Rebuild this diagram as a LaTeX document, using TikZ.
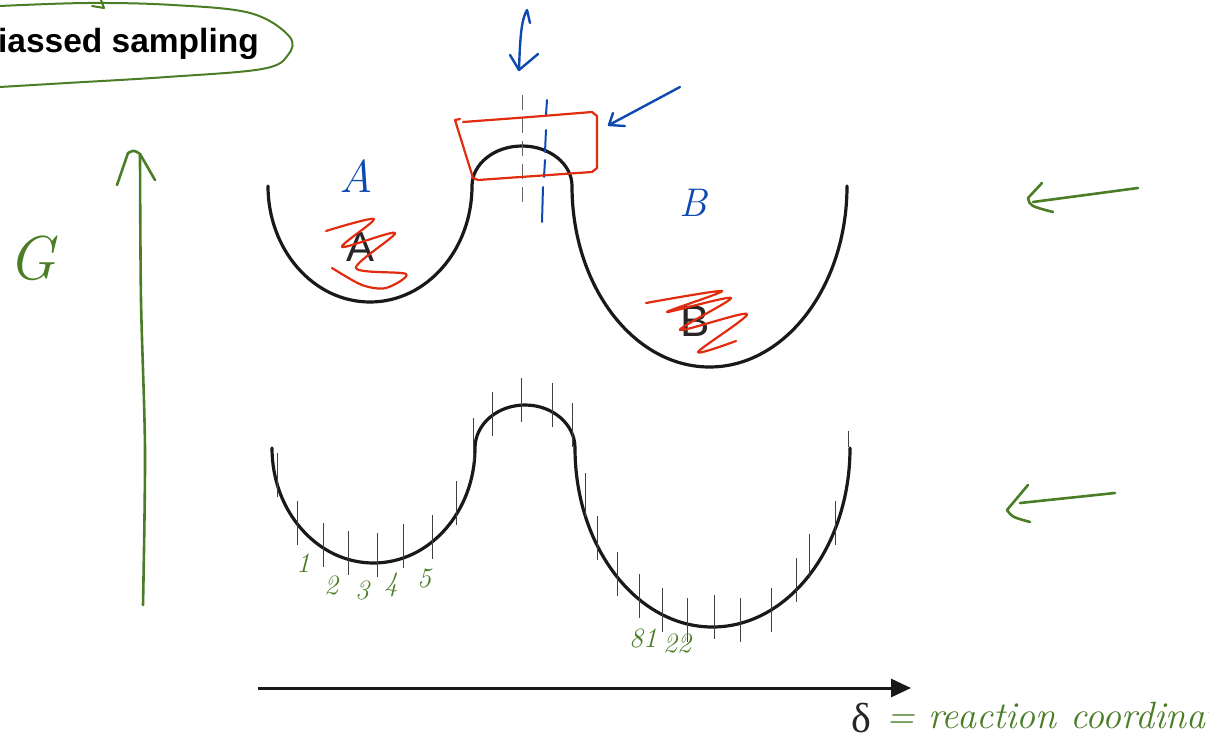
\documentclass[tikz,border=0pt]{standalone}
\usepackage{fontspec}
\setsansfont{Liberation Sans}
\newfontfamily\greekserif{Liberation Serif}
\usetikzlibrary{arrows.meta,calc}

\definecolor{penGreen}{RGB}{74,125,38}
\definecolor{penBlue}{RGB}{14,73,176}
\definecolor{penRed}{RGB}{226,44,16}

\tikzset{
  curve/.style={line width=3.2pt, black!90, line cap=round},
  tick/.style={line width=0.9pt, black!75},
  greenpen/.style={penGreen, line width=2.6pt, line cap=round, line join=round},
  bluepen/.style={penBlue, line width=2.4pt, line cap=round, line join=round},
  redpen/.style={penRed, line width=2.2pt, line cap=round, line join=round},
  hand/.style={font=\fontsize{#1}{#1}\selectfont\itshape, inner sep=0pt},
  hand/.default=24
}

\begin{document}
\begin{tikzpicture}[x=1pt,y=-1pt]
  \useasboundingbox (0,0) rectangle (1209,741);

  % title with green loop
  \node[anchor=base east, inner sep=0pt, font=\fontsize{33.5}{36}\selectfont\sffamily\bfseries] (title) at (259,53) {Biassed sampling};
  \draw[greenpen, line width=2pt] plot[smooth, tension=0.6] coordinates {(0,6) (88,3) (173,5) (250,13) (289,36) (288,55) (262,69) (167,77) (67,83) (0,87)};
  \draw[greenpen, line width=2pt] (92,6) -- (104,8) -- (101,0);

  % upper free energy curve
  \draw[curve] (268,186) arc[start angle=180, end angle=0, x radius=102, y radius=116]
    arc[start angle=180, end angle=360, x radius=50, y radius=40]
    arc[start angle=180, end angle=0, x radius=137.5, y radius=181];
  \node[inner sep=0pt, font=\fontsize{42}{42}\selectfont\sffamily, black!85] (wellA) at (361,247) {A};
  \node[inner sep=0pt, font=\fontsize{44}{44}\selectfont\sffamily, black!85] (wellB) at (695,321) {B};

  % window over the barrier
  \draw[tick, black!60, dash pattern=on 15pt off 8pt] (522,95) -- (522,203);
  \draw[bluepen, line width=2pt] (547,100) -- (546,115) (546,130) -- (545,152) (545,160) -- (544,177) (543,187) -- (542,222);
  \draw[redpen] plot[smooth, tension=0.3] coordinates {(463,122) (530,117) (592,112)}
    -- (597,116) -- (597,168) -- (592,172) -- (478,180) -- (473,178) -- (455,120) -- (460,119);

  % blue labels and arrows
  \node[hand=46, penBlue] (labA) at (356,176) {A};
  \node[hand=40, penBlue] (labB) at (693,203) {B};
  \coordinate (topArrowStart) at (530,23);
  \coordinate (topArrowEnd) at (519,70);
  \draw[bluepen] (topArrowStart) -- (527,10) .. controls (521,20) and (520,40) .. (topArrowEnd);
  \draw[bluepen] (510,55) -- (topArrowEnd) -- (538,54);
  \coordinate (winArrowStart) at (680,87);
  \coordinate (winArrowEnd) at (609,125);
  \draw[bluepen] (winArrowStart) -- (winArrowEnd);
  \draw[bluepen] (613,113) -- (winArrowEnd) -- (625,126);

  % red scribbles
  \draw[redpen] plot[smooth, tension=0.5] coordinates {(326,231) (374,219) (342,247) (395,233) (356,268) (406,274) (386,288) (362,285) (332,268)};
  \draw[redpen] plot[smooth, tension=0.5] coordinates {(646,303) (722,291) (667,312) (731,298) (680,330) (747,314) (698,352) (736,341)};

  % lower curve with windows
  \draw[curve] (272,448) arc[start angle=180, end angle=0, x radius=101.5, y radius=115]
    arc[start angle=180, end angle=360, x radius=50, y radius=43]
    arc[start angle=180, end angle=0, x radius=137.5, y radius=179];
  \foreach \x/\y in {277/475, 297/523, 323/545, 348/553, 377/555, 403/546, 432/537, 456/503,
                     473/440, 492/414, 521/400, 552/405, 572/425, 585/495, 597/538,
                     617/574, 639/596, 662/610, 687/620, 714/617, 740/620, 771/610,
                     796/580, 809/556, 835/523}
    \draw[tick] (\x,{\y-22}) -- (\x,{\y+22});
  \draw[tick] (848,431) -- (848,447);

  % window numbers
  \foreach \x/\y/\n in {303/563/1, 331/585/2, 362/590/3, 391/585/4, 424/578/5, 643/638/81, 677/643/22}
    \node[hand=28, penGreen] (num\n) at (\x,\y) {\n};

  % free energy axis
  \coordinate (gBottom) at (143,605);
  \coordinate (gTop) at (140,155);
  \draw[greenpen] plot[smooth] coordinates {(gBottom) (145,450) (141,300) (gTop)};
  \draw[greenpen] (117,185) -- (128,153) .. controls (134,150) .. (140,154) -- (155,180);
  \node[hand=62, penGreen] (labG) at (32,258) {G};

  % green arrows on the right
  \coordinate (arrUpStart) at (1138,188);
  \coordinate (arrUpEnd) at (1033,202);
  \draw[greenpen] (arrUpStart) -- (arrUpEnd);
  \draw[greenpen] (1042,183) -- (1028,198) .. controls (1030,206) .. (1053,212);
  \coordinate (arrLowStart) at (1115,493);
  \coordinate (arrLowEnd) at (1020,503);
  \draw[greenpen] (arrLowStart) -- (arrLowEnd);
  \draw[greenpen] (1028,485) -- (1007,510) .. controls (1012,517) .. (1030,522);

  % reaction coordinate axis
  \coordinate (dStart) at (258,688);
  \coordinate (dEnd) at (911,688);
  \draw[line width=3pt, black!90, -{Triangle[length=20pt, width=18pt]}] (dStart) -- (dEnd);
  \node[inner sep=0pt, font=\fontsize{42}{42}\selectfont\greekserif, black!85] (delta) at (861,718) {δ};
  \node[hand=38, penGreen, anchor=base west] (rcoord) at (886,728) {= reaction coordinate};
\end{tikzpicture}
\end{document}
